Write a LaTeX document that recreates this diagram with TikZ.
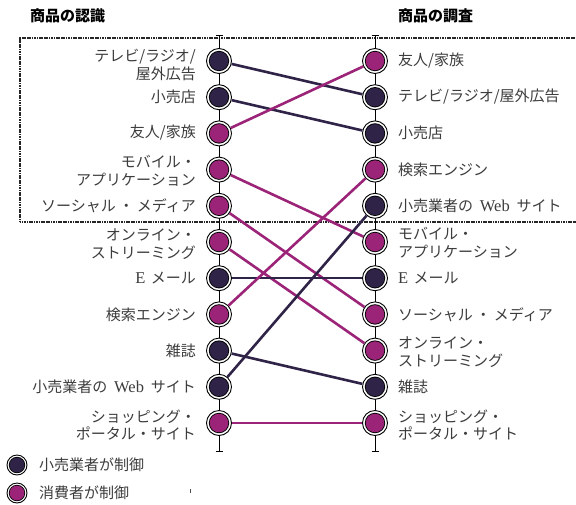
\documentclass[tikz,border=0pt]{standalone}
\usepackage{fontspec}
\setmainfont{Noto Sans CJK JP}
\newfontfamily\lat[Scale=1.1]{Liberation Serif}
\usetikzlibrary{backgrounds}
\definecolor{ret}{HTML}{2F2347}
\definecolor{con}{HTML}{9C2478}
\definecolor{txt}{HTML}{3C3C3C}
\newcommand{\mdt}{\hspace{0.2em}・\hspace{0.2em}}
\newcommand{\webword}{\hspace{0.45em}{\lat Web}\hspace{0.45em}}
\tikzset{
  pt/.style={circle, draw=black, line width=0.9pt, fill=white, minimum size=25pt, inner sep=0pt,
    path picture={\fill[black] (path picture bounding box.center) circle (10.2pt);
                  \fill[#1] (path picture bounding box.center) circle (9.3pt);}},
  lgpt/.style={circle, draw=black, line width=0.9pt, fill=white, minimum size=20pt, inner sep=0pt,
    path picture={\fill[black] (path picture bounding box.center) circle (8.2pt);
                  \fill[#1] (path picture bounding box.center) circle (7.4pt);}},
  lab/.style={text=txt, font=\fontsize{15}{17.5}\selectfont, inner sep=0pt},
  llab/.style={lab, anchor=east, align=right},
  rlab/.style={lab, anchor=west, align=left},
  ttl/.style={font=\fontsize{15}{18}\selectfont\bfseries, anchor=west, inner sep=0pt},
  conn/.style={line width=2.6pt, #1},
  ax/.style={line width=1pt, black},
}
\begin{document}
\begin{tikzpicture}[x=1pt,y=-1pt]
\useasboundingbox (0,0) rectangle (576,504);
% titles
\node[ttl] (t1) at (30,16) {商品の認識};
\node[ttl] (t2) at (398,16) {商品の調査};
% dotted box
\draw[line width=1.2pt, black!85, dash pattern=on 1.2pt off 0.5pt] (577,38) -- (20,38) -- (20,222) -- (577,222);
% axes
\foreach \x/\n in {219/a, 375/b}{
  \coordinate (\n top) at (\x,35);
  \coordinate (\n bot) at (\x,451);
  \draw[ax] (\n top) -- (\n bot);
  \draw[ax] ([xshift=-3.5pt]\n top) -- ([xshift=3.5pt]\n top);
  \draw[ax] ([xshift=-3.5pt]\n bot) -- ([xshift=3.5pt]\n bot);
}
% left nodes
\foreach \i/\c in {0/ret,1/ret,2/con,3/con,4/con,5/con,6/ret,7/con,8/ret,9/ret,10/con}{
  \node[pt=\c] (L\i) at (219,{61+36.2*\i}) {};
}
\foreach \i/\c in {0/con,1/ret,2/ret,3/con,4/ret,5/con,6/ret,7/con,8/con,9/ret,10/con}{
  \node[pt=\c] (R\i) at (375,{61+36.2*\i}) {};
}
% connectors
\draw[conn=ret] (L0) -- (R1);
\draw[conn=ret] (L1) -- (R2);
\draw[conn=con] (L2) -- (R0);
\draw[conn=con] (L3) -- (R5);
\draw[conn=con] (L4) -- (R7);
\draw[conn=con] (L5) -- (R8);
\draw[conn=ret, line width=2.2pt] (L6) -- (R6);
\draw[conn=con] (L7) -- (R3);
\draw[conn=ret] (L8) -- (R9);
\draw[conn=ret] (L9) -- (R4);
\draw[conn=con, line width=2.2pt] (L10) -- (R10);
% left labels
\node[llab] (l0) at (196,65) {テレビ/ラジオ/\\屋外広告};
\node[llab] (l1) at (196,97) {小売店};
\node[llab] (l2) at (196,133) {友人/家族};
\node[llab] (l3) at (196,171) {モバイル・\\アプリケーション};
\node[llab] (l4) at (196,206) {ソーシャル\mdt メディア};
\node[llab] (l5) at (196,244) {オンライン・\\ストリーミング};
\node[llab] (l6) at (196,278) {{\lat E}\hspace{0.35em}メール};
\node[llab] (l7) at (196,315) {検索エンジン};
\node[llab] (l8) at (196,351) {雑誌};
\node[llab] (l9) at (196,387) {小売業者の\webword サイト};
\node[llab] (l10) at (196,425) {ショッピング・\\ポータル・サイト};
% right labels
\node[rlab] (r0) at (398,61) {友人/家族};
\node[rlab] (r1) at (398,97) {テレビ/ラジオ/屋外広告};
\node[rlab] (r2) at (398,133) {小売店};
\node[rlab] (r3) at (398,170) {検索エンジン};
\node[rlab] (r4) at (398,206) {小売業者の\webword サイト};
\node[rlab] (r5) at (398,243) {モバイル・\\アプリケーション};
\node[rlab] (r6) at (398,278) {{\lat E}\hspace{0.35em}メール};
\node[rlab] (r7) at (398,315) {ソーシャル\mdt メディア};
\node[rlab] (r8) at (398,352) {オンライン・\\ストリーミング};
\node[rlab] (r9) at (398,387) {雑誌};
\node[rlab] (r10) at (398,425) {ショッピング・\\ポータル・サイト};
% legend
\node[lgpt=ret] (g1) at (17,465) {};
\node[lgpt=con] (g2) at (17,493) {};
\node[rlab] (gt1) at (39,465) {小売業者が制御};
\node[rlab] (gt2) at (39,493) {消費者が制御};
\coordinate (m1) at (190,489);
\coordinate (m2) at (190,493);
\draw[black!70, line width=0.6pt] (m1) -- (m2);
\end{tikzpicture}
\end{document}
